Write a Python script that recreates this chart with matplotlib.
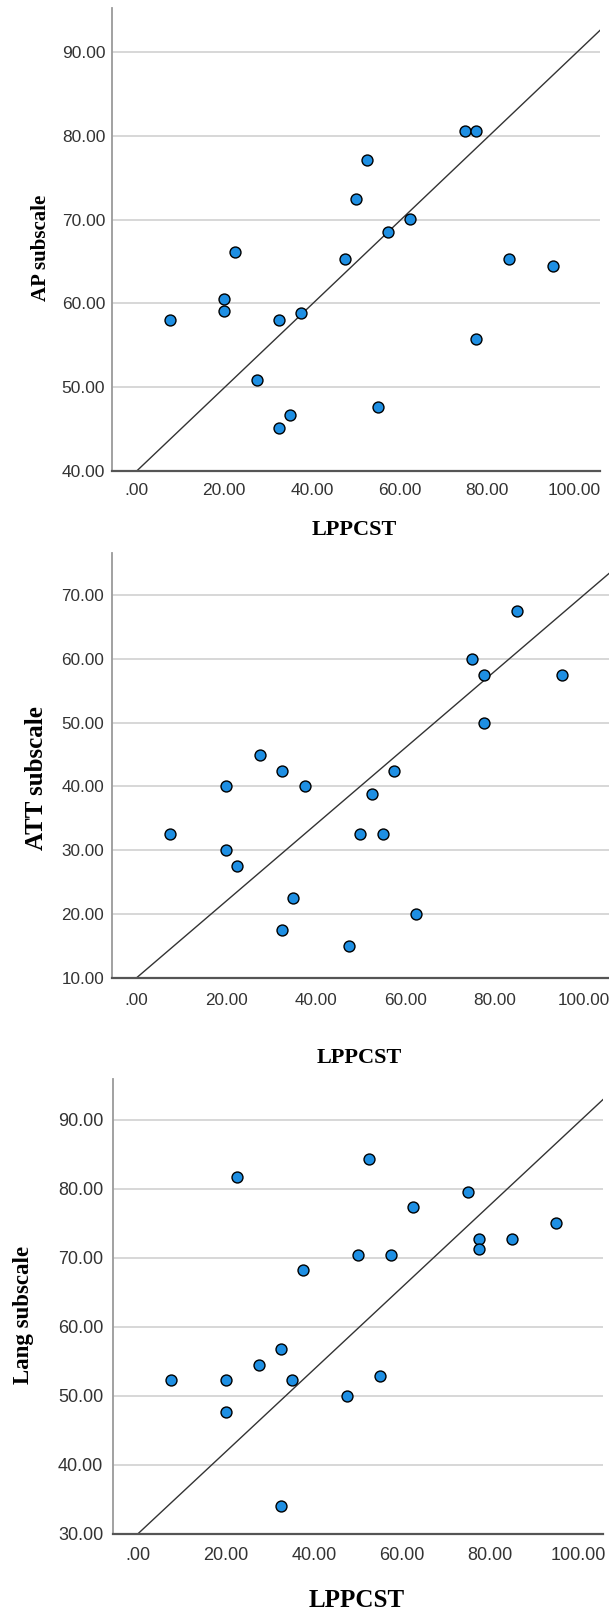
import matplotlib
matplotlib.use("Agg")
import matplotlib.pyplot as plt
from matplotlib.ticker import FuncFormatter

# LPPCST scores (same participants in every panel)
lppcst = [7.5, 20, 20, 22.5, 27.5, 32.5, 32.5, 35, 37.5, 47.5,
          50, 52.5, 55, 57.5, 62.5, 75, 77.5, 77.5, 85, 95]

ap_sub = [58.0, 60.5, 59.1, 66.1, 50.8, 58.0, 45.1, 46.7, 58.8, 65.3,
          72.5, 77.1, 47.6, 68.5, 70.1, 80.6, 80.6, 55.8, 65.3, 64.5]
att_sub = [32.5, 40.0, 30.0, 27.5, 45.0, 42.5, 17.5, 22.5, 40.0, 15.0,
           32.5, 38.9, 32.5, 42.5, 20.0, 60.0, 57.5, 50.0, 67.5, 57.5]
lang_sub = [52.3, 52.3, 47.7, 81.7, 54.5, 56.8, 34.1, 52.3, 68.2, 50.0,
            70.4, 84.3, 52.9, 70.4, 77.3, 79.5, 72.7, 71.3, 72.7, 75.0]

# fit lines (intercept, slope)
ap_fit = (40.0, 0.497)
att_fit = (10.0, 0.601)
lang_fit = (30.0, 0.596)

x_ticks = [0, 20, 40, 60, 80, 100]

panels = [
    dict(y=ap_sub, fit=ap_fit, label="AP subscale", yticks=[40, 50, 60, 70, 80, 90],
         ylim=(40, 95.3), xlim=(-5.6, 105.8), rect=[0.1842, 0.7080, 0.8010, 0.2873],
         tfont=["Liberation Sans Narrow", "Liberation Sans"], tsize=12.5, ypad=5, xpad=8.5,
         xl_size=16, yl_size=15, xl_pos=(0.497, -0.127), yl_pos=(-0.146, 0.481)),
    dict(y=att_sub, fit=att_fit, label="ATT subscale", yticks=[10, 20, 30, 40, 50, 60, 70],
         ylim=(10, 76.6), xlim=(-5.6, 105.5), rect=[0.1831, 0.3938, 0.8169, 0.2633],
         tfont=["Liberation Sans Narrow", "Liberation Sans"], tsize=12.3, ypad=5.4, xpad=11,
         xl_size=16, yl_size=18, xl_pos=(0.497, -0.189), yl_pos=(-0.150, 0.470)),
    dict(y=lang_sub, fit=lang_fit, label="Lang subscale", yticks=[30, 40, 50, 60, 70, 80, 90],
         ylim=(30, 95.9), xlim=(-5.65, 105.6), rect=[0.1856, 0.0491, 0.8048, 0.2820],
         tfont=["Liberation Sans"], tsize=13, ypad=7, xpad=9.5,
         xl_size=18, yl_size=16.5, xl_pos=(0.498, -0.146), yl_pos=(-0.183, 0.481)),
]

fig = plt.figure(figsize=(6.09, 16.13), dpi=100)

fmt = FuncFormatter(lambda v, p: ("%.2f" % v).lstrip("0") if v == 0 else "%.2f" % v)

for pn in panels:
    ax = fig.add_axes(pn["rect"])
    ax.set_xlim(*pn["xlim"])
    ax.set_ylim(*pn["ylim"])
    ax.set_xticks(x_ticks)
    ax.set_yticks(pn["yticks"])
    ax.xaxis.set_major_formatter(fmt)
    ax.yaxis.set_major_formatter(fmt)
    ax.grid(axis="y", color="#d4d4d4", linewidth=1.3)
    ax.set_axisbelow(True)
    for s in ["top", "right"]:
        ax.spines[s].set_visible(False)
    ax.spines["left"].set_color("#9a9a9a")
    ax.spines["left"].set_linewidth(1.3)
    ax.spines["bottom"].set_color("#555555")
    ax.spines["bottom"].set_linewidth(1.6)
    ax.tick_params(axis="both", length=0, labelcolor="#333333")
    ax.tick_params(axis="y", pad=pn["ypad"])
    ax.tick_params(axis="x", pad=pn["xpad"])
    for t in ax.get_xticklabels() + ax.get_yticklabels():
        t.set_fontfamily(pn["tfont"])
        t.set_fontsize(pn["tsize"])

    b0, b1 = pn["fit"]
    xs = [0, pn["xlim"][1]]
    ax.plot(xs, [b0 + b1 * v for v in xs], color="#333333", linewidth=1.0, zorder=2)
    ax.scatter(lppcst, pn["y"], s=62, color="#1e8fe3", edgecolors="black",
               linewidths=1.0, zorder=3)

    ax.set_xlabel("LPPCST", family="Liberation Serif", weight="bold",
                  fontsize=pn["xl_size"])
    ax.set_ylabel(pn["label"], family="Liberation Serif", weight="bold",
                  fontsize=pn["yl_size"])
    ax.xaxis.set_label_coords(*pn["xl_pos"])
    ax.yaxis.set_label_coords(*pn["yl_pos"])
    ax.xaxis.label.set_va("center")
    ax.yaxis.label.set_va("center")

fig.savefig("out.png", dpi=100)
